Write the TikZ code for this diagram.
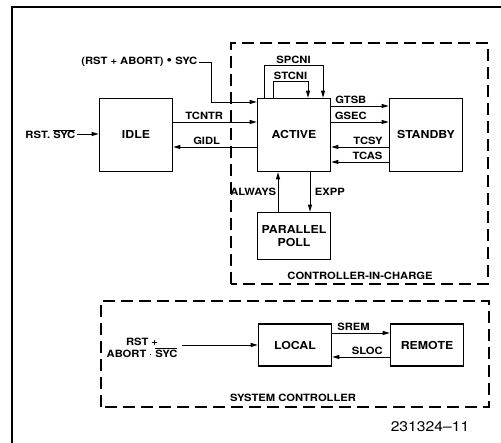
\documentclass[tikz,border=0pt]{standalone}
\usepackage{fontspec}
\setmainfont{TeX Gyre Heros}[FakeStretch=1.12]
\usepackage{tikz}
\usetikzlibrary{positioning, arrows.meta, calc}

\begin{document}
\begin{tikzpicture}[
    x=1pt, y=1pt,
    >={Triangle[length=7pt, width=4pt]},
    state/.style={draw, line width=1.6pt, minimum width=73pt, minimum height=73pt,
        inner sep=1pt, align=center, font=\fontsize{11}{13}\selectfont\bfseries},
    lbl/.style={inner sep=1.5pt, align=center, font=\fontsize{10}{11.5}\selectfont\bfseries},
    flow/.style={->, line width=0.9pt},
    region/.style={line width=1.1pt, dash pattern=on 12pt off 6pt}
]
    \useasboundingbox (0,0) rectangle (501,443);

    % 外框
    \draw[line width=1.2pt] (12,0) -- (12,436) -- (501,436);

    % 虚线区域
    \draw[region] (231,159) rectangle (488,400);
    \draw[region] (101,36) rectangle (489,142);
    \node[lbl] (cic) at (360,167) {CONTROLLER-IN-CHARGE};
    \node[lbl] (sysc) at (293,45) {SYSTEM CONTROLLER};

    % 状态框
    \node[state] (idle) at (136,308) {IDLE};
    \node[state] (active) at (294,308) {ACTIVE};
    \node[state] (standby) at (426,308) {STANDBY};
    \node[state, minimum height=47pt] (ppoll) at (294,207) {PARALLEL\\POLL};
    \node[state, minimum height=42pt] (local) at (295,98) {LOCAL};
    \node[state, minimum height=42pt] (remote) at (427,98) {REMOTE};

    % 外部条件
    \node[lbl, anchor=east] (rstsyc) at (77,309) {RST. $\overline{\hbox{SYC}}$};
    \draw[flow] (rstsyc.east) -- (idle.west |- rstsyc.east);
    \node[lbl, anchor=east] (rstabort) at (199,381) {(RST + ABORT) {\fontsize{14}{11.5}\selectfont\textbullet} SYC};
    \draw[flow] (rstabort.east) -- ++(12,0) |- ([yshift=33pt]active.west);

    % IDLE <-> ACTIVE
    \draw[flow] ([yshift=13pt]idle.east) -- node[lbl, above, pos=0.37] (tcntr) {TCNTR} ([yshift=13pt]active.west);
    \draw[flow] ([yshift=-12pt]active.west) -- node[lbl, above, pos=0.6] (gidl) {GIDL} ([yshift=-12pt]idle.east);

    % 自环
    \draw[flow] ([xshift=-30pt]active.north) -- ++(0,32) -| node[lbl, above, pos=0.25] (spcni) {SPCNI} ([xshift=29pt]active.north);
    \draw[flow] ([xshift=-21pt]active.north) -- ++(0,16) -| node[lbl, above, pos=0.25] (stcni) {STCNI} ([xshift=14pt]active.north);

    % ACTIVE <-> STANDBY
    \draw[flow] ([yshift=29pt]active.east) -- node[lbl, above, pos=0.34] (gtsb) {GTSB} ([yshift=29pt]standby.west);
    \draw[flow] ([yshift=13pt]active.east) -- node[lbl, above, pos=0.34] (gsec) {GSEC} ([yshift=13pt]standby.west);
    \draw[flow] ([yshift=-12pt]standby.west) -- node[lbl, above, pos=0.36] (tcsy) {TCSY} ([yshift=-12pt]active.east);
    \draw[flow] ([yshift=-27pt]standby.west) -- node[lbl, above, pos=0.37] (tcas) {TCAS} ([yshift=-27pt]active.east);

    % ACTIVE <-> PARALLEL POLL
    \draw[flow] ([xshift=-16pt]ppoll.north) -- node[lbl, left] (always) {ALWAYS} ([xshift=-16pt]ppoll.north |- active.south);
    \draw[flow] ([xshift=16pt]active.south) -- node[lbl, right, xshift=3pt] (expp) {EXPP} ([xshift=16pt]active.south |- ppoll.north);

    % 系统控制器
    \node[lbl] (rstabort2) at (142,95) {RST +\\ABORT $\cdot$ $\overline{\hbox{SYC}}$};
    \draw[flow] ([xshift=3pt]rstabort2.east |- local.west) -- (local.west);
    \draw[flow] ([yshift=12pt]local.east) -- node[lbl, above, pos=0.37] (srem) {SREM} ([yshift=12pt]remote.west);
    \draw[flow] ([yshift=-12pt]remote.west) -- node[lbl, above, pos=0.39] (sloc) {SLOC} ([yshift=-12pt]local.east);

    \node[font=\fontsize{14}{16}\selectfont] (figno) at (430,16) {231324--11};
\end{tikzpicture}
\end{document}
